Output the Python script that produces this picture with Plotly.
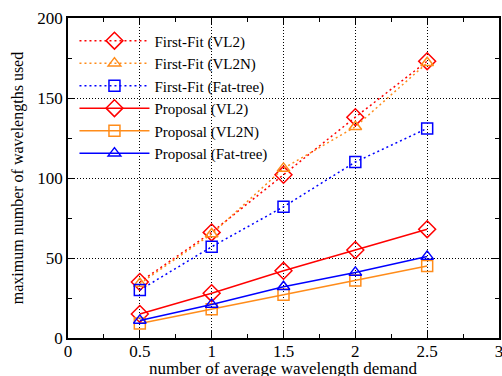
import plotly.graph_objects as go

x = [0.5, 1, 1.5, 2, 2.5]
ff_vl2 = [35, 66, 102, 138, 173]
ff_vl2n = [34, 65, 106, 132, 172]
ff_fat = [30, 57, 82, 110, 131]
pr_vl2 = [15, 28, 42, 55, 68]
pr_vl2n = [9, 18, 27, 36, 45]
pr_fat = [11, 21, 32, 41, 51]

RED = "#ff0000"
ORANGE = "#ff8c1a"
BLUE = "#0000ff"

series = [
    ("First-Fit (VL2)", ff_vl2, RED, "2px,3px", "diamond-open", 13),
    ("First-Fit (VL2N)", ff_vl2n, ORANGE, "2px,3px", "triangle-up-open", 11),
    ("First-Fit (Fat-tree)", ff_fat, BLUE, "2px,3px", "square-open", 11),
    ("Proposal (VL2)", pr_vl2, RED, "solid", "diamond-open", 13),
    ("Proposal (VL2N)", pr_vl2n, ORANGE, "solid", "square-open", 11),
    ("Proposal (Fat-tree)", pr_fat, BLUE, "solid", "triangle-up-open", 11),
]

fig = go.Figure()
for name, y, c, dash, sym, sz in series:
    fig.add_trace(go.Scatter(
        x=x, y=y, name=name, mode="lines+markers",
        line=dict(color=c, width=1.5, dash=dash),
        marker=dict(symbol=sym, size=sz, color=c, line=dict(color=c, width=1.5)),
    ))

font = "Liberation Serif, Times New Roman, serif"
axis_common = dict(
    showline=True, linecolor="black", linewidth=1.5, mirror="ticks",
    ticks="inside", ticklen=7, tickcolor="black", tickwidth=1,
    showgrid=True, gridcolor="black", gridwidth=1, griddash="1px,2px",
    zeroline=False, automargin=False, ticklabeloverflow="allow",
    tickfont=dict(family=font, size=17, color="black"),
)
fig.update_xaxes(
    range=[0, 3], tickmode="array",
    tickvals=[0, 0.5, 1, 1.5, 2, 2.5, 3],
    ticktext=["0", "0.5", "1", "1.5", "2", "2.5", "3"],
    ticklabelstandoff=-3,
    minor=dict(dtick=0.25, tick0=0, ticks="inside", ticklen=4, tickcolor="black", showgrid=False),
    **axis_common,
)
fig.update_yaxes(
    range=[0, 200], dtick=50, tick0=0,
    minor=dict(dtick=25, tick0=0, ticks="inside", ticklen=4, tickcolor="black", showgrid=False),
    title=dict(text="maximum number of wavelengths used", font=dict(family=font, size=16, color="black"), standoff=10),
    **axis_common,
)
fig.add_annotation(
    text="number of average wavelength demand", xref="paper", yref="paper",
    x=0.5, y=0, xanchor="center", yanchor="top", yshift=-19, showarrow=False,
    font=dict(family=font, size=17, color="black"),
)
fig.update_layout(
    width=502, height=376,
    margin=dict(l=68, r=3, t=18, b=38),
    plot_bgcolor="white", paper_bgcolor="white",
    font=dict(family=font, size=16, color="black"),
    legend=dict(
        x=0.015, y=0.98, xanchor="left", yanchor="top",
        bgcolor="rgba(0,0,0,0)", itemwidth=70, tracegroupgap=0,
        font=dict(family=font, size=15, color="black"),
    ),
)
fig.write_html(
    "out.html",
    config={"displayModeBar": False},
    post_script="document.body.style.margin='0';document.body.style.overflow='hidden';",
)
